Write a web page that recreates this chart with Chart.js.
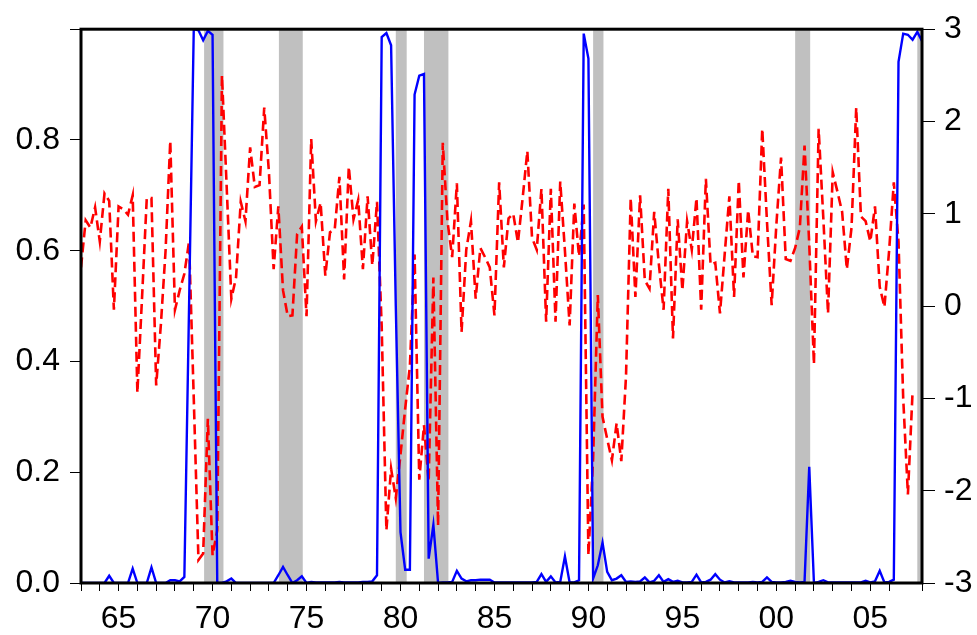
<!DOCTYPE html>
<html lang="en">

<head>
    <meta charset="UTF-8">
    <title>Recession probability and growth</title>
    <script src="https://cdn.jsdelivr.net/npm/chart.js"></script>
    <style>
        body { margin: 0; background: #fff; }
        #wrap { width: 977px; height: 635px; }
    </style>
</head>

<body>
    <div id="wrap"><canvas id="probChart"></canvas></div>
    <script>
        // quarterly sample, 1963Q1 .. 2007Q4
        const startYear = 1963;
        const nQuarters = 180;

        // smoothed recession probability (left axis)
        const probValues = [
            0, 0, 0, 0, 0, 0, 0.013, 0, 0, 0,
            0, 0.026, 0, 0, 0, 0.028, 0, 0, 0, 0.005,
            0.005, 0.003, 0.011, 0.5, 1.0, 0.998, 0.98, 0.997, 0.99, 0,
            0, 0.003, 0.008, 0, 0, 0, 0, 0, 0, 0,
            0, 0, 0.014, 0.029, 0.014, 0, 0.005, 0.012, 0, 0.002,
            0.001, 0.001, 0.001, 0.001, 0.001, 0.002, 0.001, 0.001, 0.001, 0.001,
            0.002, 0.002, 0.003, 0.014, 0.986, 0.993, 0.971, 0.5, 0.092, 0.024,
            0.024, 0.882, 0.916, 0.919, 0.044, 0.105, 0, 0.001, 0.001, 0.002,
            0.022, 0.008, 0.003, 0.005, 0.005, 0.006, 0.006, 0.006, 0.001, 0.001,
            0.001, 0.001, 0.001, 0.001, 0.001, 0.001, 0.001, 0.002, 0.016, 0.002,
            0.012, 0.001, 0.002, 0.048, 0.001, 0.001, 0.005, 0.992, 0.947, 0.008,
            0.032, 0.073, 0.02, 0.005, 0.008, 0.014, 0.002, 0.003, 0.002, 0.003,
            0.01, 0.001, 0.004, 0.014, 0.002, 0.007, 0.002, 0.004, 0.001, 0.001,
            0.002, 0.015, 0.001, 0.002, 0.006, 0.016, 0.006, 0.001, 0.003, 0.001,
            0.001, 0.001, 0.001, 0.002, 0.001, 0.002, 0.01, 0.002, 0.001, 0.001,
            0.002, 0.004, 0.002, 0.001, 0.002, 0.21, 0, 0.002, 0.005, 0.001,
            0.001, 0.001, 0.001, 0.001, 0.001, 0.001, 0.001, 0.004, 0.001, 0.003,
            0.022, 0.001, 0.002, 0.006, 0.941, 0.992, 0.99, 0.981, 0.995, 0.979
        ];

        // growth series (right axis), last two quarters missing
        const growthValues = [
            0.42, 0.93, 0.85, 1.07, 0.70, 1.22, 1.14, -0.04, 1.08, 1.05,
            0.99, 1.20, -0.94, 0.10, 1.17, 1.17, -0.86, -0.20, 0.60, 1.79,
            -0.04, 0.17, 0.35, 0.70, -1.00, -2.75, -2.68, -1.22, -2.70, -2.43,
            2.50, 1.30, 0.08, 0.31, 1.13, 0.92, 1.72, 1.29, 1.31, 2.15,
            1.45, 0.40, 1.08, 0.17, -0.11, -0.10, 0.78, 0.86, -0.11, 1.81,
            0.92, 1.12, 0.33, 0.80, 0.83, 1.40, 0.29, 1.51, 0.94, 1.15,
            0.40, 1.19, 0.44, 1.13, -0.22, -2.43, -1.76, -2.08, -1.61, -1.11,
            -0.65, 0.56, -1.88, -1.29, -1.90, 0.31, -2.38, 1.77, 0.92, 0.53,
            1.33, -0.28, 0.61, 0.92, 0.08, 0.63, 0.53, 0.42, -0.10, 1.34,
            0.42, 0.95, 1.00, 0.69, 1.17, 1.68, 0.74, 0.61, 1.27, -0.17,
            1.27, -0.17, 1.35, 0.60, -0.21, 1.11, 0.54, 1.10, -2.70, -1.65,
            0.12, -1.20, -1.44, -1.67, -1.27, -1.68, -0.76, 1.17, 0.10, 1.20,
            0.28, 0.19, 1.02, 0.45, -0.04, 1.27, -0.35, 0.94, 0.17, 0.92,
            0.61, 1.17, -0.04, 1.38, 0.45, 0.47, -0.08, 0.56, 1.19, 0.10,
            1.36, 0.31, 1.04, 0.54, 0.53, 1.92, 0.92, 0.01, 0.88, 1.61,
            0.51, 0.49, 0.63, 0.85, 1.74, 0.67, -0.63, 1.92, 0.95, -0.08,
            1.45, 1.24, 1.02, 0.40, 0.85, 2.15, 0.97, 0.92, 0.70, 1.08,
            0.21, -0.01, 0.60, 1.34, 0.70, -1.00, -2.04, -0.92, null, null
        ];

        // shaded recession periods (decimal years)
        const recessionStart = [1969.55, 1973.53, 1979.75, 1981.25, 1990.25, 2001.0, 2007.5];
        const recessionEnd = [1970.58, 1974.8, 1980.33, 1982.55, 1990.8, 2001.8, 2007.75];

        const leftTicks = [0, 0.2, 0.4, 0.6, 0.8, 1.0];
        const rightTicks = [-3, -2, -1, 0, 1, 2, 3];

        const quarters = [];
        for (let i = 0; i < nQuarters; i++) quarters.push(startYear + i / 4);

        const tickFont = { family: "'Liberation Sans', Arial, sans-serif", size: 32 };

        const shadePlugin = {
            id: 'shade',
            beforeDatasetsDraw(chart) {
                const { ctx, chartArea, scales } = chart;
                ctx.save();
                ctx.fillStyle = '#c0c0c0';
                recessionStart.forEach((s, k) => {
                    const x0 = scales.x.getPixelForValue(s);
                    const x1 = scales.x.getPixelForValue(recessionEnd[k]);
                    ctx.fillRect(x0, chartArea.top, x1 - x0, chartArea.bottom - chartArea.top);
                });
                ctx.restore();
            },
            afterDatasetsDraw(chart) {
                const { ctx, chartArea } = chart;
                ctx.save();
                ctx.strokeStyle = '#000';
                ctx.lineWidth = 3;
                ctx.strokeRect(chartArea.left, chartArea.top,
                    chartArea.right - chartArea.left, chartArea.bottom - chartArea.top);
                ctx.restore();
            }
        };

        const ctx = document.getElementById('probChart').getContext('2d');
        new Chart(ctx, {
            type: 'line',
            data: {
                datasets: [{
                    label: 'Growth',
                    data: quarters.map((q, i) => ({ x: q, y: growthValues[i] })),
                    yAxisID: 'y1',
                    borderColor: '#ff0000',
                    borderWidth: 2.6,
                    borderDash: [10, 5],
                    pointRadius: 0,
                    tension: 0,
                    spanGaps: false,
                    order: 2
                }, {
                    label: 'Probability',
                    data: quarters.map((q, i) => ({ x: q, y: probValues[i] })),
                    yAxisID: 'y',
                    borderColor: '#0000ff',
                    borderWidth: 2.4,
                    pointRadius: 0,
                    tension: 0,
                    order: 1
                }]
            },
            options: {
                responsive: true,
                maintainAspectRatio: false,
                animation: false,
                layout: { padding: { top: 22, left: 0, right: 0, bottom: 0 } },
                plugins: { legend: { display: false }, tooltip: { enabled: false } },
                scales: {
                    x: {
                        type: 'linear',
                        min: startYear,
                        max: startYear + (nQuarters - 1) / 4,
                        grid: { drawOnChartArea: false, tickLength: 8, color: '#000', lineWidth: 1 },
                        border: { display: false },
                        ticks: {
                            stepSize: 1,
                            autoSkip: false,
                            maxRotation: 0,
                            padding: 9,
                            color: '#000',
                            font: tickFont,
                            callback: v => (Number.isInteger(v) && v % 5 === 0) ? String(v % 100).padStart(2, '0') : ''
                        },
                        afterFit: s => { s.height = 52; }
                    },
                    y: {
                        position: 'left',
                        min: leftTicks[0],
                        max: leftTicks[leftTicks.length - 1],
                        grid: { drawOnChartArea: false, tickLength: 11, color: '#000', lineWidth: 1 },
                        border: { display: false },
                        afterBuildTicks: s => { s.ticks = leftTicks.map(v => ({ value: v })); },
                        ticks: {
                            padding: 10,
                            color: '#000',
                            font: tickFont,
                            callback: v => v >= 1 ? '' : v.toFixed(1)
                        },
                        afterFit: s => { s.width = 81; }
                    },
                    y1: {
                        position: 'right',
                        min: rightTicks[0],
                        max: rightTicks[rightTicks.length - 1],
                        grid: { drawOnChartArea: false, tickLength: 13, color: '#000', lineWidth: 1 },
                        border: { display: false },
                        afterBuildTicks: s => { s.ticks = rightTicks.map(v => ({ value: v })); },
                        ticks: {
                            padding: 9,
                            color: '#000',
                            font: tickFont,
                            callback: v => String(v)
                        },
                        afterFit: s => { s.width = 55; }
                    }
                }
            },
            plugins: [shadePlugin]
        });
    </script>
</body>

</html>
